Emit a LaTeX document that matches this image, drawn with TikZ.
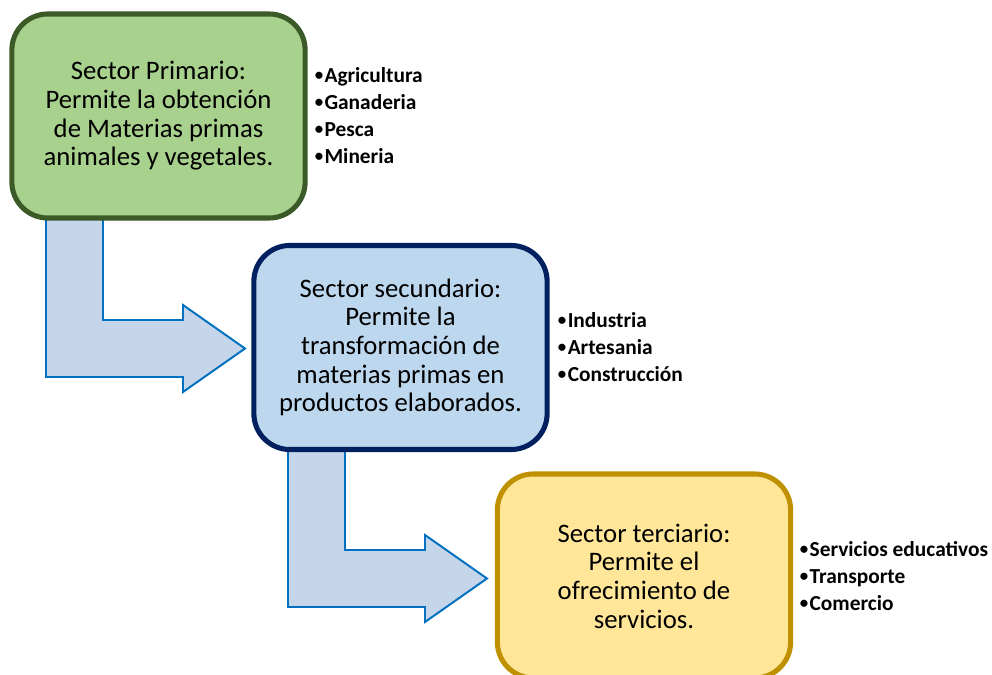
\documentclass[tikz,border=0pt]{standalone}
\usepackage{fontspec}
\setmainfont{Carlito}
\usepackage{tikz}
\definecolor{primfill}{HTML}{A9D18E}
\definecolor{primline}{HTML}{3B5A27}
\definecolor{secfill}{HTML}{BDD7EE}
\definecolor{secline}{HTML}{002060}
\definecolor{terfill}{HTML}{FFE699}
\definecolor{terline}{HTML}{BF9000}
\definecolor{arrfill}{HTML}{C5D5EA}
\definecolor{arrline}{HTML}{0070C0}
\tikzstyle{sector}=[rounded corners=0.9cm, line width=3.6pt, minimum width=7.33cm,
  minimum height=5.1cm, align=center, font=\fontsize{19}{20.4}\selectfont]
\tikzstyle{items}=[anchor=west, inner sep=0pt, align=left,
  font=\fontsize{15.2}{19.2}\selectfont\bfseries]
\tikzstyle{bent}=[fill=arrfill, draw=arrline, line width=1.4pt, line join=miter]
\newcommand{\bul}{\raisebox{1.6pt}{\fontsize{12}{12}\selectfont•}\hspace{1pt}}
% bent arrow, #1 = top left corner of the shaft
\newcommand{\bentarrow}[1]{%
  \draw[bent] (#1) -- ++(57,0) -- ++(0,110) -- ++(80,0) -- ++(0,-15)
    -- ++(62,43.5) -- ++(-62,43.5) -- ++(0,-15) -- ++(-137,0) -- cycle;}

\begin{document}
\begin{tikzpicture}[x=0.025cm, y=-0.025cm]
        \clip (0,0) rectangle (992,675);
        \useasboundingbox (0,0) rectangle (992,675);
        \bentarrow{46,210}
        \bentarrow{288,440}
        \node[sector, fill=primfill, draw=primline] (prim) at (158.5,116)
          {Sector Primario:\\Permite la obtención\\de Materias primas\\animales y vegetales.};
        \node[sector, fill=secfill, draw=secline] (sec) at (400.5,347.5)
          {Sector secundario:\\Permite la\\transformación de\\materias primas en\\productos elaborados.};
        \node[sector, fill=terfill, draw=terline] (ter) at (644,576)
          {Sector terciario:\\Permite el\\ofrecimiento de\\servicios.};
        \node[items, xshift=0.17cm] (primlist) at (prim.east)
          {\bul Agricultura\\\bul Ganaderia\\\bul Pesca\\\bul Mineria};
        \node[items, xshift=0.2cm] (seclist) at (sec.east)
          {\bul Industria\\\bul Artesania\\\bul Construcción};
        \node[items, xshift=0.16cm] (terlist) at (ter.east)
          {\bul Servicios educativos\\\bul Transporte\\\bul Comercio};
    \end{tikzpicture}
\end{document}
